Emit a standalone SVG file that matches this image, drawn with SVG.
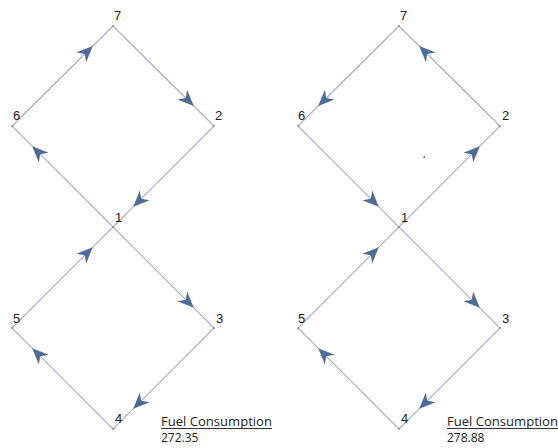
<svg xmlns="http://www.w3.org/2000/svg" width="558" height="448" viewBox="0 0 558 448">
<style>
.e{fill:none;stroke:#a7aec2;stroke-width:1.1;marker-mid:url(#ah)}
.l{font-family:"Liberation Sans",Arial,sans-serif;font-size:13px;fill:#222}
.f{font-family:"Open Sans","Liberation Sans",sans-serif;font-size:12px;fill:#222}
.v{fill:#666}
</style>
<defs>
<marker id="ah" markerUnits="userSpaceOnUse" markerWidth="20" markerHeight="20" viewBox="-14 -7 16 14" refX="0" refY="0" orient="auto">
<path d="M0,0 L-13,-5.5 L-9,0 L-13,5.5 Z" fill="#4d6b98"/>
</marker>
</defs>
<rect width="558" height="448" fill="#fff"/>
<g id="edges">
<polyline class="e" points="12,126 92.8,46 113,26"/>
<polyline class="e" points="113,26 193.8,106 214,126"/>
<polyline class="e" points="214,126 133.2,206.8 113,227"/>
<polyline class="e" points="113,227 32.2,146.2 12,126"/>
<polyline class="e" points="113,227 193.8,307.8 214,328"/>
<polyline class="e" points="214,328 133.2,408.8 113,429"/>
<polyline class="e" points="113,429 32.2,348.2 12,328"/>
<polyline class="e" points="12,328 92.8,247.2 113,227"/>
<polyline class="e" points="399,26 318.2,106 298,126"/>
<polyline class="e" points="298,126 378.8,206.8 399,227"/>
<polyline class="e" points="399,227 479.8,146.2 500,126"/>
<polyline class="e" points="500,126 419.2,46 399,26"/>
<polyline class="e" points="399,227 479.8,307.8 500,328"/>
<polyline class="e" points="500,328 419.2,408.8 399,429"/>
<polyline class="e" points="399,429 318.2,348.2 298,328"/>
<polyline class="e" points="298,328 378.8,247.2 399,227"/>
</g>
<g id="L7"><circle class="v" cx="113" cy="26" r="0.8"/><text class="l" x="114" y="20">7</text></g>
<g id="L6"><circle class="v" cx="12" cy="126" r="0.8"/><text class="l" x="13" y="120">6</text></g>
<g id="L2"><circle class="v" cx="214" cy="126" r="0.8"/><text class="l" x="215" y="120">2</text></g>
<g id="L1"><circle class="v" cx="113" cy="227" r="0.8"/><text class="l" x="115" y="222">1</text></g>
<g id="L5"><circle class="v" cx="12" cy="328" r="0.8"/><text class="l" x="13" y="323">5</text></g>
<g id="L3"><circle class="v" cx="214" cy="328" r="0.8"/><text class="l" x="216" y="323">3</text></g>
<g id="L4"><circle class="v" cx="113" cy="429" r="0.8"/><text class="l" x="115" y="423">4</text></g>
<g id="R7"><circle class="v" cx="399" cy="26" r="0.8"/><text class="l" x="400" y="20">7</text></g>
<g id="R6"><circle class="v" cx="298" cy="126" r="0.8"/><text class="l" x="298" y="120">6</text></g>
<g id="R2"><circle class="v" cx="500" cy="126" r="0.8"/><text class="l" x="502" y="120">2</text></g>
<g id="R1"><circle class="v" cx="399" cy="227" r="0.8"/><text class="l" x="401" y="222">1</text></g>
<g id="R5"><circle class="v" cx="298" cy="328" r="0.8"/><text class="l" x="298" y="323">5</text></g>
<g id="R3"><circle class="v" cx="500" cy="328" r="0.8"/><text class="l" x="502" y="323">3</text></g>
<g id="R4"><circle class="v" cx="399" cy="429" r="0.8"/><text class="l" x="401" y="423">4</text></g>
<rect x="423.5" y="156.5" width="1.5" height="1.5" fill="#444"/>
<g id="fuelL">
<text class="f" x="161" y="426" textLength="111" lengthAdjust="spacingAndGlyphs">Fuel Consumption</text>
<line x1="161" y1="428.5" x2="272" y2="428.5" stroke="#333" stroke-width="1"/>
<text class="f" x="161" y="442">272.35</text>
</g>
<g id="fuelR">
<text class="f" x="447" y="426" textLength="111" lengthAdjust="spacingAndGlyphs">Fuel Consumption</text>
<line x1="447" y1="428.5" x2="558" y2="428.5" stroke="#333" stroke-width="1"/>
<text class="f" x="447" y="442">278.88</text>
</g>
</svg>
